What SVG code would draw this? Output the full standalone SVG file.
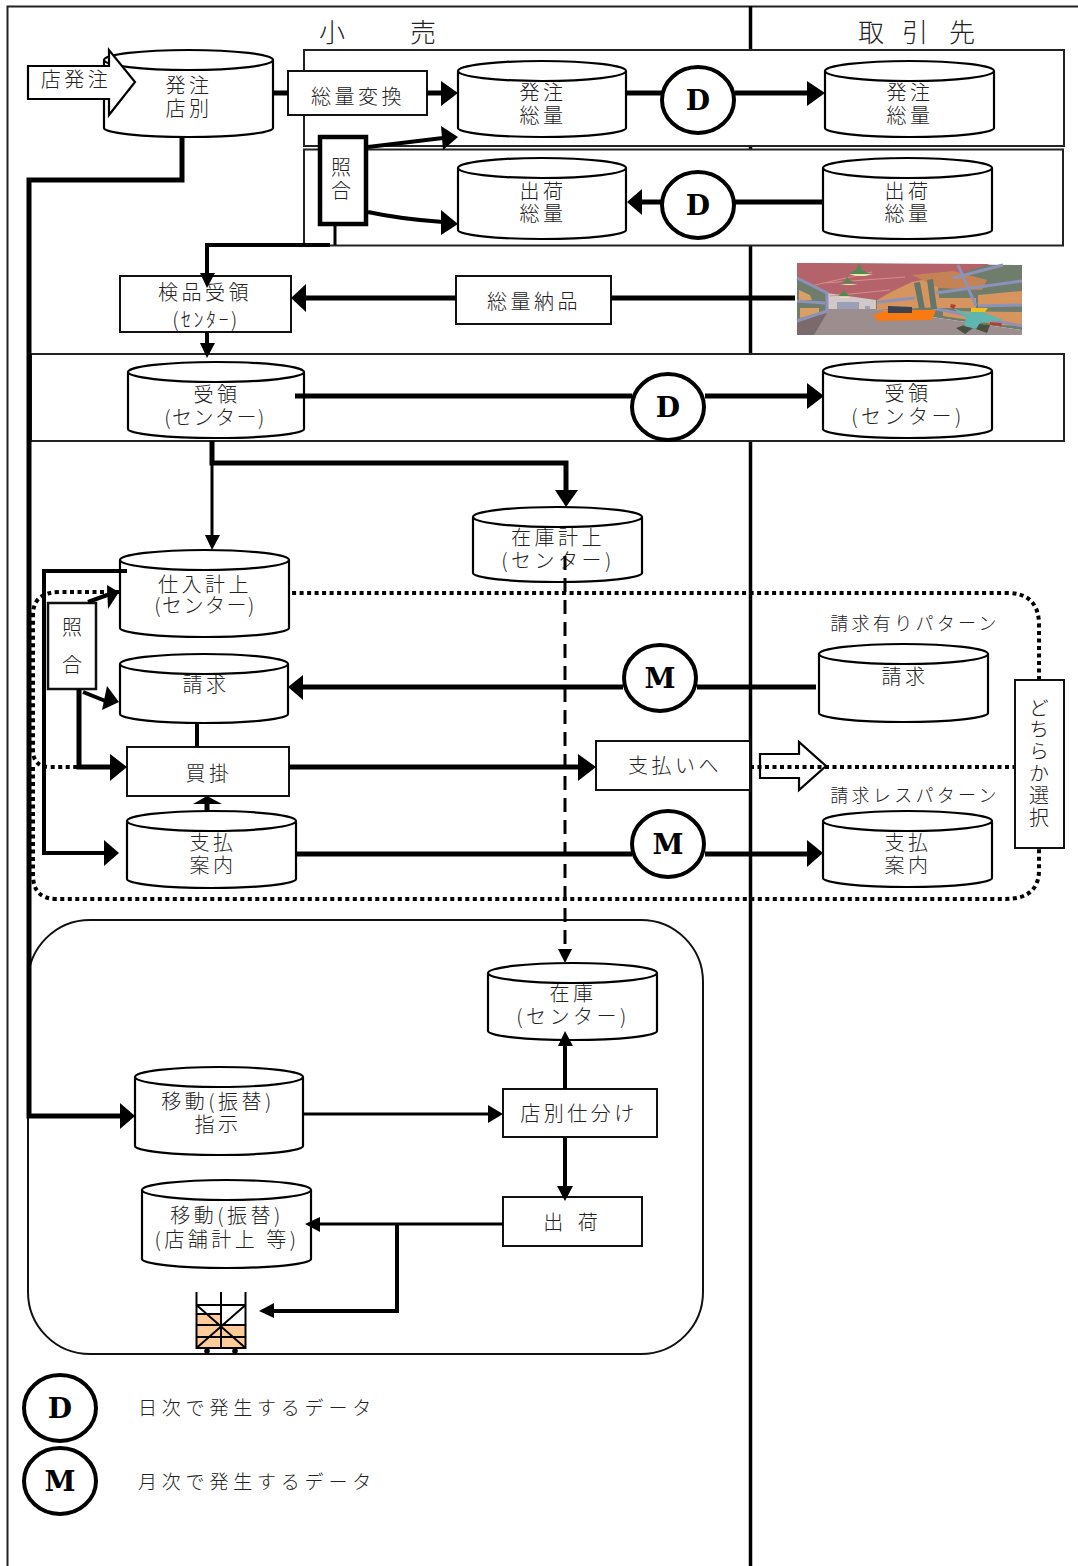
<svg xmlns="http://www.w3.org/2000/svg" width="1078" height="1566" viewBox="0 0 1078 1566">
<style>
text{font-family:"Noto Sans CJK JP","Noto Sans CJK SC",sans-serif;font-size:20px;letter-spacing:3.5px;fill:#222;text-anchor:middle;font-weight:300}
.cyl{fill:#fff;stroke:#000;stroke-width:2.2}
.box{fill:#fff;stroke:#111;stroke-width:2}
.frame{fill:#fff;stroke:#222;stroke-width:2}
.ln{fill:none;stroke:#000;stroke-linejoin:miter}
.w3{stroke-width:3}.w4{stroke-width:4}.w5{stroke-width:5}
.circ{fill:#fff;stroke:#000;stroke-width:4}
.dl{font-family:"DejaVu Serif",serif;font-weight:700;font-size:28px;letter-spacing:0;fill:#000}
.dot{fill:none;stroke:#000;stroke-width:4;stroke-dasharray:4 3.5}
.hd{fill:#000;stroke:none}
.leg{text-anchor:start;font-size:19px;letter-spacing:4.800px}
.hol{fill:#fff;stroke:#000;stroke-width:2.2}
.t0{letter-spacing:0}
.pat{font-size:18px;letter-spacing:3.300px}
.st{fill:none;stroke:#8e92b8;stroke-width:3}
</style>
<rect width="1078" height="1566" fill="#fff"/>
<g id="frame">
<path d="M1078 6.500H7.500V1566" class="ln" stroke-width="2" style="stroke:#222"/>
<path d="M750.500 6V1566" class="ln" stroke-width="3.500"/>
<text x="332" y="42" class="t0" style="font-size:26px">小</text>
<text x="423" y="42" class="t0" style="font-size:26px">売</text>
<text x="871" y="42" class="t0" style="font-size:26px">取</text>
<text x="915" y="42" class="t0" style="font-size:26px">引</text>
<text x="962" y="42" class="t0" style="font-size:26px">先</text>
<rect class="frame" x="304" y="50" width="760" height="96"/>
<rect class="frame" x="304" y="149.500" width="759" height="96"/>
<rect class="frame" x="31" y="354" width="1033" height="87"/>
<rect x="28" y="920" width="675" height="434" rx="62" ry="62" fill="#fff" stroke="#111" stroke-width="2"/>
<path id="choice-arrow" class="hol" d="M760 754H799V742L826 766L799 790V778H760Z"/>
<path class="dot" d="M1039 680V625Q1039 593 1007 593H289M119 592H60Q33 592 33 615V750Q33 767 50 767H79"/>
<path class="dot" d="M33 767V875Q33 899 57 899H1005Q1039 899 1039 870V848"/>
<path class="dot" d="M750 767H1015"/>
</g>
<g id="nodes">
<g id="order-store"><path class="cyl" d="M104 60a84.500 10 0 0 1 169 0v68a84.500 9 0 0 1-169 0zm0 0a84.500 10 0 0 0 169 0"/><text x="189" y="93">発注<tspan x="189" dy="23">店別</tspan></text></g>
<g id="store-order"><path class="hol" d="M28 66H109V50L135 82L109 115V99H28Z"/><text x="76" y="87">店発注</text></g>
<g id="convert"><rect class="box" x="288" y="71" width="139" height="44"/><text x="358" y="104">総量変換</text></g>
<g id="order-total"><path class="cyl" d="M458 71a84 10 0 0 1 168 0v57a84 9 0 0 1-168 0zm0 0a84 10 0 0 0 168 0"/><text x="543" y="100">発注<tspan x="543" dy="23">総量</tspan></text></g>
<g id="order-total-s"><path class="cyl" d="M825 71a84.500 10 0 0 1 169 0v57a84.500 9 0 0 1-169 0zm0 0a84.500 10 0 0 0 169 0"/><text x="910" y="100">発注<tspan x="910" dy="23">総量</tspan></text></g>
<g id="match1"><rect x="320" y="137" width="46" height="87" fill="#fff" stroke="#000" stroke-width="4.500"/><text x="341" y="175" class="t0">照<tspan x="341" dy="23">合</tspan></text></g>
<g id="ship-total"><path class="cyl" d="M458 168a84 10 0 0 1 168 0v62a84 9 0 0 1-168 0zm0 0a84 10 0 0 0 168 0"/><text x="543" y="199">出荷<tspan x="543" dy="22">総量</tspan></text></g>
<g id="ship-total-s"><path class="cyl" d="M823 168a84.500 10 0 0 1 169 0v62a84.500 9 0 0 1-169 0zm0 0a84.500 10 0 0 0 169 0"/><text x="908" y="199">出荷<tspan x="908" dy="22">総量</tspan></text></g>
<g id="inspect"><rect class="box" x="120" y="276" width="171" height="56"/><text x="205" y="300">検品受領<tspan x="206" dy="27" style="font-size:20px;letter-spacing:2.500px">(ｾﾝﾀｰ)</tspan></text></g>
<g id="bulk-deliver"><rect class="box" x="456" y="276" width="155" height="48"/><text x="534" y="309">総量納品</text></g>
<g id="warehouse">
<polygon points="797,263 1022,265 1022,330 876,309 827,309 797,321" fill="#6f7d6c"/>
<polygon points="797,263 990,264 876,300 827,293 797,276" fill="#b5636a"/>
<polygon points="827,293 876,300 876,309 827,309" fill="#d3c8c8"/>
<path d="M837 302h22v7h-22zM865 306h5v3h-5z" fill="#9aa0b8"/>
<path d="M815 285L872 272M825 283L905 277M830 296L890 290" stroke="#d98c8c" fill="none"/>
<polygon points="827,309 876,309 1022,330 1022,335 797,335 797,321" fill="#9c8d8e"/>
<polygon points="797,321 827,313 814,335 797,335" fill="#7a6a6c"/>
<polygon points="797,278 827,293 826,311 797,321" fill="#6f7d6c"/>
<path d="M799 290l11 5 2 5-13 1zM800 308h19v5l-19 5z" fill="#d9a066"/>
<path class="st" d="M797 278L827 293V311L797 321M797 301L825 303"/>
<path d="M877 300l16-9 19-9 25-5 3 30-63 3zM936 298h40v10h-40zM978 295l44-4v14h-44zM943 311l79 1v14l-20-1-59-9z" fill="#d6955f"/>
<polygon points="912,275 953,271 987,280 982,290 939,288" fill="#c58355"/>
<path class="st" d="M958 265L976 306M953 278L1003 265M936 293L1022 281M978 306L1022 305M932 308L1022 326M878 302L915 298"/>
<path d="M914 283l6-1 5 27h-6zM927 280l6-1 4 30h-6z" fill="#64756a"/>
<path d="M873 315l15-5h48l-4 10-54 1z" fill="#f97a10"/>
<path d="M888 306l24 1v6h-24z" fill="#3b4250"/>
<path d="M956 328l14-5 20 2-3 8-14-5-8 6z" fill="#4a4f40"/>
<path d="M953 308l13 5 14-2 23 9-23 3-4 6-12-3 2-8z" fill="#5fb5b0"/>
<path d="M971 308h17l-3 4h-14z" fill="#f0c020"/>
<path d="M951 304l5 1-2 4-4-2zM990 322l12 1-1 3-11-1z" fill="#b04030"/>
<path d="M859 263l3 7 8 4h-22l8-4zM847 276l2 4 7 3h-16l6-3zM844 290l2 3 4 3h-12l4-3z" fill="#4f8a55"/>
<path d="M849 274h24l-8 2h-9zM840 284h18l-6 1h-6zM838 297h12l-3 1h-6z" fill="#f3e3a6"/>
</g>
<g id="receive"><path class="cyl" d="M128 372a88 10 0 0 1 176 0v57a88 9 0 0 1-176 0zm0 0a88 10 0 0 0 176 0"/><text x="217" y="402">受領<tspan x="215" dy="23" style="letter-spacing:1.500px">(センター)</tspan></text></g>
<g id="receive-s"><path class="cyl" d="M823 371a84.500 10 0 0 1 169 0v58a84.500 9 0 0 1-169 0zm0 0a84.500 10 0 0 0 169 0"/><text x="908" y="401">受領<tspan x="908" dy="23">(センター)</tspan></text></g>
<g id="stock-post"><path class="cyl" d="M473 517a84.500 10 0 0 1 169 0v56a84.500 9 0 0 1-169 0zm0 0a84.500 10 0 0 0 169 0"/><text x="558" y="545">在庫計上<tspan x="558" dy="23">(センター)</tspan></text></g>
<g id="purchase"><path class="cyl" d="M120 560a84.500 10 0 0 1 169 0v68a84.500 9 0 0 1-169 0zm0 0a84.500 10 0 0 0 169 0"/><text x="205" y="592">仕入計上<tspan x="205" dy="21" style="letter-spacing:1.500px">(センター)</tspan></text></g>
<g id="match2"><rect x="48" y="603" width="48" height="86" fill="#fff" stroke="#111" stroke-width="2.500"/><text x="72" y="635" class="t0">照<tspan x="72" dy="37">合</tspan></text></g>
<g id="invoice"><path class="cyl" d="M120 664a84 10 0 0 1 168 0v50a84 9 0 0 1-168 0zm0 0a84 10 0 0 0 168 0"/><text x="206" y="692">請求</text></g>
<g id="invoice-s"><path class="cyl" d="M819 654a84.500 10 0 0 1 169 0v59a84.500 9 0 0 1-169 0zm0 0a84.500 10 0 0 0 169 0"/><text x="905" y="684">請求</text></g>
<g id="invoice-yes"><text x="915" y="630" class="pat">請求有りパターン</text></g>
<g id="invoice-less"><text x="915" y="802" class="pat">請求レスパターン</text></g>
<g id="payable"><rect class="box" x="127" y="747" width="162" height="49"/><text x="209" y="781">買掛</text></g>
<g id="pay-note"><path class="cyl" d="M127 821a84.500 10 0 0 1 169 0v58a84.500 9 0 0 1-169 0zm0 0a84.500 10 0 0 0 169 0"/><text x="213" y="850">支払<tspan x="213" dy="23">案内</tspan></text></g>
<g id="pay-note-s"><path class="cyl" d="M823 821a84.500 10 0 0 1 169 0v57a84.500 9 0 0 1-169 0zm0 0a84.500 10 0 0 0 169 0"/><text x="908" y="850">支払<tspan x="908" dy="23">案内</tspan></text></g>
<g id="to-pay"><rect class="box" x="596" y="741" width="154" height="49"/><text x="675" y="773">支払いへ</text></g>
<g id="choose"><rect class="box" x="1015" y="680" width="49" height="168"/><text x="1039" y="698" style="writing-mode:vertical-rl;text-anchor:start;letter-spacing:1.800px">どちらか選択</text></g>
<g id="stock"><path class="cyl" d="M488 973a84.500 10 0 0 1 169 0v58a84.500 9 0 0 1-169 0zm0 0a84.500 10 0 0 0 169 0"/><text x="573" y="1001">在庫<tspan x="573" dy="23">(センター)</tspan></text></g>
<g id="move-order"><path class="cyl" d="M135 1077a84 10 0 0 1 168 0v69a84 9 0 0 1-168 0zm0 0a84 10 0 0 0 168 0"/><text x="218" y="1109">移動(振替)<tspan x="218" dy="23">指示</tspan></text></g>
<g id="sort"><rect class="box" x="503" y="1089" width="154" height="48"/><text x="579" y="1121">店別仕分け</text></g>
<g id="ship"><rect class="box" x="503" y="1197" width="139" height="49"/><text x="573" y="1230" style="letter-spacing:5px">出 荷</text></g>
<g id="move-store"><path class="cyl" d="M142 1190a84.500 10 0 0 1 169 0v69a84.500 9 0 0 1-169 0zm0 0a84.500 10 0 0 0 169 0"/><text x="227" y="1223">移動(振替)<tspan x="227" dy="24">(店舗計上 等)</tspan></text></g>
<g id="cart">
<path d="M197 1314h24v34h-24zM221 1325h24v23h-24z" fill="#ffcc99"/>
<path d="M196.500 1292V1348H245.500V1292M221 1292V1348M196.500 1305H245.500M196.500 1314H221M196.500 1325H245.500M196.500 1337H245.500M196.500 1305L245.500 1348M245.500 1305L196.500 1348" fill="none" stroke="#000" stroke-width="2"/>
<circle cx="207" cy="1351" r="2.800"/><circle cx="235" cy="1351" r="2.800"/>
</g>
<g id="legend-d"><ellipse class="circ" cx="60" cy="1408" rx="36" ry="33"/><text class="dl" x="60" y="1418">D</text><text class="leg" x="138" y="1415">日次で発生するデータ</text></g>
<g id="legend-m"><ellipse class="circ" cx="60" cy="1481" rx="36" ry="33"/><text class="dl" x="60" y="1491">M</text><text class="leg" x="138" y="1489">月次で発生するデータ</text></g>
</g>
<g id="connectors">
<path class="ln w5" d="M273 93H288M427 93H442M626 93H662M735 93H808"/>
<path class="hd" d="M441 81L458 93L441 106ZM807 81L825 93L807 106Z"/>
<path class="ln w4" d="M368 147L443 138"/><path class="hd" d="M441 126L458 137L443 150Z"/>
<path class="ln w4" d="M368 212Q400 219 443 222"/><path class="hd" d="M441 210L458 224L441 235Z"/>
<path class="ln w5" d="M823 202H735M662 202H641"/><path class="hd" d="M642 189L627 202L642 215Z"/>
<path class="ln w3" d="M335 224V245"/><path class="ln w4" d="M330 245H207V274"/>
<path class="hd" d="M200 273H215L207 288Z"/>
<path class="ln w5" d="M456 298H304M611 298H795"/><path class="hd" d="M306 284L291 298L306 312Z"/>
<path class="ln w4" d="M207 332V345"/><path class="hd" d="M200 343H215L207 358Z"/>
<path class="ln w5" d="M295 396H632M705 396H808"/><path class="hd" d="M807 383L824 396L807 409Z"/>
<path class="ln w5" d="M182 137V180H29V1116H121"/><path class="hd" d="M120 1103L135 1116L120 1129Z"/>
<path class="ln w5" d="M212 441V463H566V492"/><path class="hd" d="M555 490H578L566 507Z"/>
<path class="ln w3" d="M212 463V536"/><path class="hd" d="M205 535H220L212 550Z"/>
<path class="ln w3" d="M565 556V950" stroke-dasharray="14 8"/><path class="hd" d="M558 949H572L565 963Z"/>
<path class="ln w4" d="M127 571H44V853H105"/><path class="hd" d="M104 840L119 853L104 866Z"/>
<path class="ln w4" d="M88 602L110 594"/><path class="hd" d="M107 585L119 592L108 609Z"/>
<path class="ln w4" d="M83 692L108 702"/><path class="hd" d="M107 686L119 702L102 710Z"/>
<path class="ln w5" d="M79 689V767H111"/><path class="hd" d="M110 754L127 767L110 781Z"/>
<path class="ln w4" d="M197 723V747"/>
<path class="ln w5" d="M207 811V803"/><path class="hd" d="M193 804L207 796L222 804Z"/>
<path class="ln w5" d="M289 767H579"/><path class="hd" d="M578 754L596 767L578 781Z"/>
<path class="ln w5" d="M816 687H697M623 687H303"/><path class="hd" d="M303 675L288 687L303 700Z"/>
<path class="ln w5" d="M296 854H632M705 854H808"/><path class="hd" d="M807 840L823 853L807 867Z"/>
<path class="ln w4" d="M565 1089V1045"/><path class="hd" d="M558 1046H573L565 1031Z"/>
<path class="ln w3" d="M302 1114H489"/><path class="hd" d="M488 1105L503 1114L488 1123Z"/>
<path class="ln w4" d="M565 1137V1187"/><path class="hd" d="M557 1186H573L565 1201Z"/>
<path class="ln w3" d="M503 1224H318"/><path class="hd" d="M320 1217L305 1224L320 1232Z"/>
<path class="ln w4" d="M397 1224V1311H273"/><path class="hd" d="M274 1303L259 1311L274 1318Z"/>
</g>
<g id="data-marks">
<g><ellipse class="circ" cx="698" cy="100" rx="36" ry="33"/><text class="dl" x="698" y="110">D</text></g>
<g><ellipse class="circ" cx="698" cy="205" rx="36" ry="33"/><text class="dl" x="698" y="215">D</text></g>
<g><ellipse class="circ" cx="668" cy="407" rx="36" ry="33"/><text class="dl" x="668" y="417">D</text></g>
<g><ellipse class="circ" cx="660" cy="678" rx="36" ry="33"/><text class="dl" x="660" y="688">M</text></g>
<g><ellipse class="circ" cx="668" cy="844" rx="36" ry="33"/><text class="dl" x="668" y="854">M</text></g>
</g>
</svg>
